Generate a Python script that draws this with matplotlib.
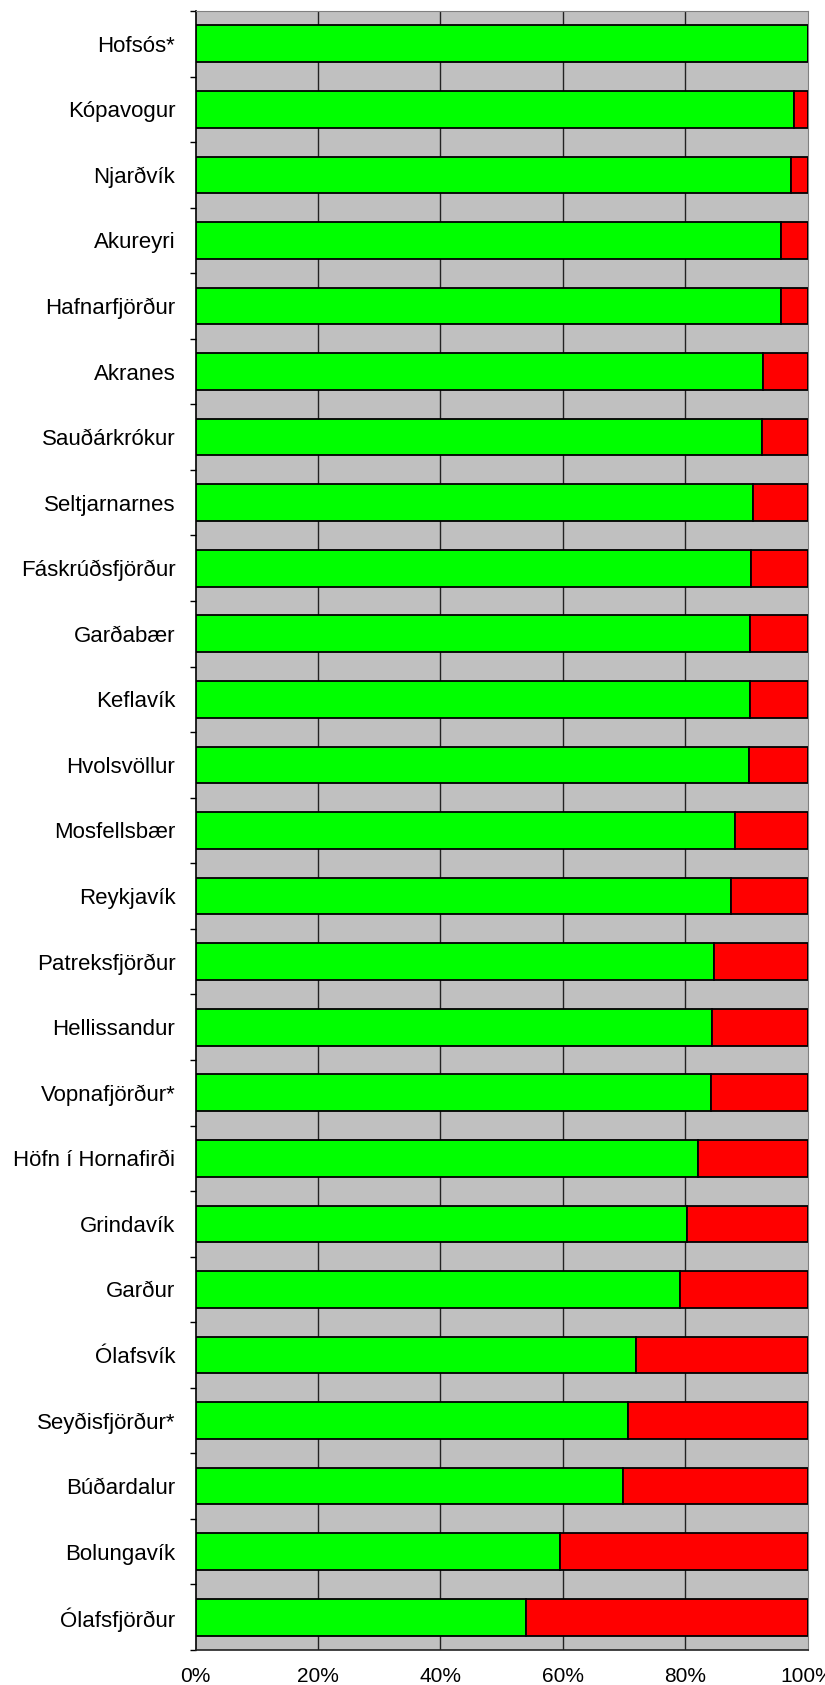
import numpy as np
import matplotlib
matplotlib.use('Agg')
import matplotlib.pyplot as plt

# 各地点名称（从上到下）
towns = ['Hofsós*', 'Kópavogur', 'Njarðvík', 'Akureyri', 'Hafnarfjörður',
         'Akranes', 'Sauðárkrókur', 'Seltjarnarnes', 'Fáskrúðsfjörður',
         'Garðabær', 'Keflavík', 'Hvolsvöllur', 'Mosfellsbær', 'Reykjavík',
         'Patreksfjörður', 'Hellissandur', 'Vopnafjörður*',
         'Höfn í Hornafirði', 'Grindavík', 'Garður', 'Ólafsvík',
         'Seyðisfjörður*', 'Búðardalur', 'Bolungavík', 'Ólafsfjörður']

# 绿色部分所占百分比
green_pct = [100.0, 97.7, 97.3, 95.7, 95.7,
             92.7, 92.5, 91.1, 90.8,
             90.6, 90.6, 90.4, 88.1, 87.5,
             84.7, 84.4, 84.2,
             82.1, 80.3, 79.1, 72.0,
             70.6, 69.9, 59.5, 54.0]

# 红色部分 = 剩下的
red_pct = [100.0 - g for g in green_pct]

x_ticks = [0, 20, 40, 60, 80, 100]
x_ticklabels = ['0%', '20%', '40%', '60%', '80%', '100%']

plt.rcParams['font.family'] = ['Liberation Sans', 'DejaVu Sans']

fig = plt.figure(figsize=(8.25, 16.85), dpi=100)
ax = fig.add_axes([195.5 / 825, 1 - 1650 / 1685, (807.7 - 195.5) / 825, (1650 - 11) / 1685])
ax.set_facecolor('#C0C0C0')

pos = np.arange(len(towns))
ax.barh(pos, green_pct, height=0.56, color='#00FF00', edgecolor='black', linewidth=1.3, zorder=3)
ax.barh(pos, red_pct, left=green_pct, height=0.56, color='#FF0000', edgecolor='black', linewidth=1.3, zorder=3)

ax.set_xlim(0, 100)
ax.set_ylim(len(towns) - 0.5, -0.5)

# 竖直网格线
for xv in x_ticks[1:-1]:
    ax.axvline(xv, color='#222222', linewidth=1.0, zorder=1)

# x轴刻度
ax.set_xticks(x_ticks)
ax.set_xticklabels(x_ticklabels, fontsize=15)
ax.tick_params(axis='x', which='major', length=0, pad=12)
ax.set_xticks([0, 100], minor=True)
ax.tick_params(axis='x', which='minor', length=4, width=1, color='black')

# y轴：刻度在类别边界，标签在中间
ax.set_yticks(np.arange(len(towns) + 1) - 0.5)
ax.set_yticklabels([])
ax.tick_params(axis='y', which='major', length=4.5, width=1, color='black')
ax.set_yticks(pos, minor=True)
ax.set_yticklabels(towns, minor=True, fontsize=16)
ax.tick_params(axis='y', which='minor', length=0, pad=14.5)

ax.spines['left'].set_color('black')
ax.spines['left'].set_linewidth(1.2)
ax.spines['bottom'].set_color('#222222')
ax.spines['bottom'].set_linewidth(1.2)
ax.spines['top'].set_color('#808080')
ax.spines['right'].set_color('#808080')

fig.savefig('out.png', dpi=100)
